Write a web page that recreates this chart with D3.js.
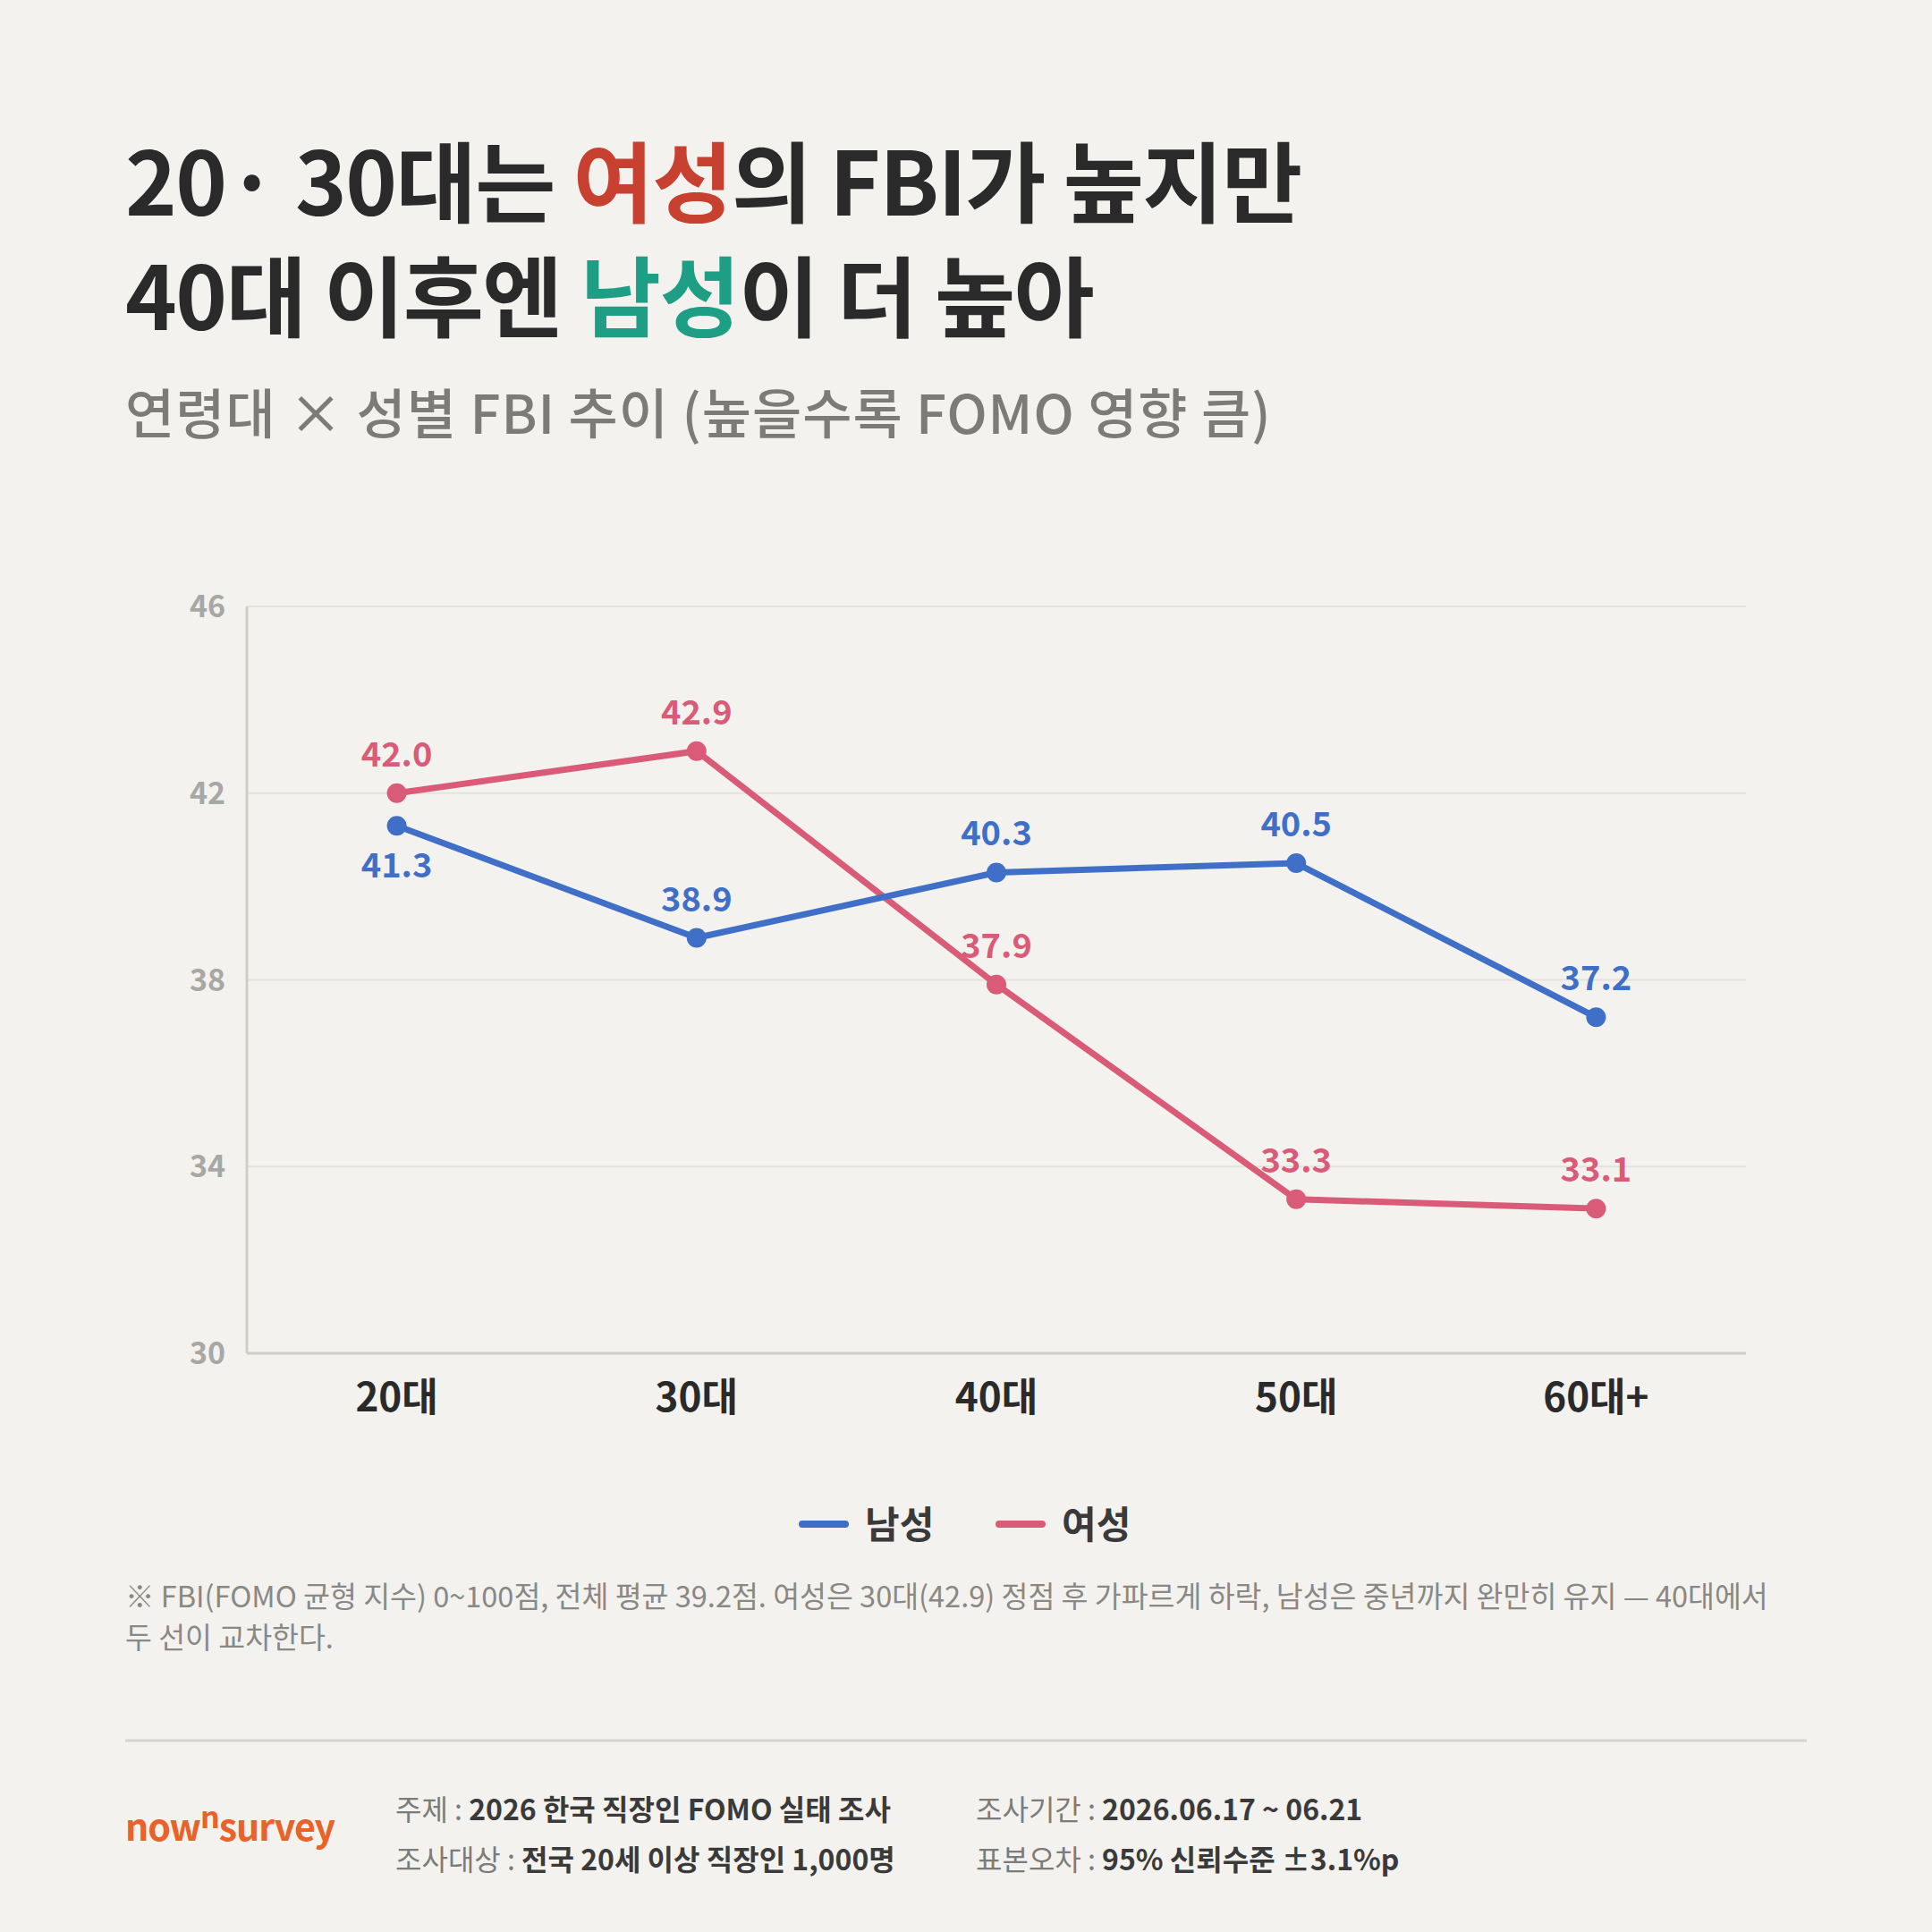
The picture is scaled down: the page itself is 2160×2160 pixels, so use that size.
<!DOCTYPE html>
<html><head><meta charset="utf-8">
<script src="https://cdn.jsdelivr.net/npm/d3@7"></script>
<style>
body{margin:0;background:#f3f2ee;}
svg{display:block;font-family:"Noto Sans CJK KR","Noto Sans",sans-serif;}
</style></head>
<body><svg width="2160" height="2160"></svg>
<script>
var ages = ["20대","30대","40대","50대","60대+"];
var male = [41.3,38.9,40.3,40.5,37.2];
var female = [42.0,42.9,37.9,33.3,33.1];
var yTicks = [30,34,38,42,46];

var svg = d3.select("svg");
var blue = "#3f6fc6", pink = "#d95b78";
svg.append("rect").attr("width",2160).attr("height",2160).attr("fill","#f3f2ee");

// title
var t1 = svg.append("text").attr("x",140).attr("y",241).attr("font-size",98).attr("font-weight",700).attr("letter-spacing",-1.5).attr("fill","#2a2a2a");
t1.append("tspan").text("20· 30대는 ");
t1.append("tspan").attr("fill","#c8402f").text("여성");
t1.append("tspan").text("의 FBI가 높지만");
var t2 = svg.append("text").attr("x",140).attr("y",369).attr("font-size",98).attr("font-weight",700).attr("letter-spacing",-1.5).attr("fill","#2a2a2a");
t2.append("tspan").text("40대 이후엔 ");
t2.append("tspan").attr("fill","#1e9e84").text("남성");
t2.append("tspan").text("이 더 높아");
svg.append("text").attr("x",140).attr("y",485).attr("font-size",60).attr("font-weight",500).attr("letter-spacing",1).attr("fill","#7d7b77")
  .text("연령대 × 성별 FBI 추이 (높을수록 FOMO 영향 큼)");

var L=276,R=1952,T=678,B=1513;
var x = d3.scalePoint().domain(ages).range([L,R]).padding(0.5);
var y = d3.scaleLinear().domain([30,46]).range([B,T]);

var g = svg.append("g");
g.selectAll(".grid").data(yTicks.slice(1)).enter().append("line")
  .attr("x1",L).attr("x2",R).attr("y1",d=>y(d)).attr("y2",d=>y(d))
  .attr("stroke","#e4e2dd").attr("stroke-width",2);
g.append("line").attr("x1",L).attr("x2",L).attr("y1",T).attr("y2",B).attr("stroke","#cfcdc8").attr("stroke-width",3);
g.append("line").attr("x1",L).attr("x2",R).attr("y1",B).attr("y2",B).attr("stroke","#cfcdc8").attr("stroke-width",3);
g.selectAll(".yt").data(yTicks).enter().append("text")
  .attr("x",L-24).attr("y",d=>y(d)+12).attr("text-anchor","end")
  .attr("font-size",34).attr("font-weight",700).attr("fill","#a9a7a3").text(d=>d);
g.selectAll(".xt").data(ages).enter().append("text")
  .attr("x",d=>x(d)).attr("y",1578).attr("text-anchor","middle")
  .attr("font-size",44).attr("font-weight",700).attr("fill","#2a2a2a").text(d=>d);

var line = d3.line().x((d,i)=>x(ages[i])).y(d=>y(d));
function series(vals,color,above){
  g.append("path").datum(vals).attr("d",line).attr("fill","none").attr("stroke",color).attr("stroke-width",7).attr("stroke-linejoin","round");
  g.selectAll(null).data(vals).enter().append("circle")
    .attr("cx",(d,i)=>x(ages[i])).attr("cy",d=>y(d)).attr("r",11).attr("fill",color);
  g.selectAll(null).data(vals).enter().append("text")
    .attr("x",(d,i)=>x(ages[i])).attr("y",(d,i)=>y(d)+(above[i]?-30:58))
    .attr("text-anchor","middle").attr("font-size",38).attr("font-weight",700).attr("fill",color)
    .text(d=>d.toFixed(1));
}
series(female,pink,[true,true,true,true,true]);
series(male,blue,[false,true,true,true,true]);

// legend
var leg=[["남성",blue,897],["여성",pink,1117]];
leg.forEach(function(l){
  svg.append("line").attr("x1",l[2]).attr("x2",l[2]+48).attr("y1",1704).attr("y2",1704)
    .attr("stroke",l[1]).attr("stroke-width",8).attr("stroke-linecap","round");
  svg.append("text").attr("x",l[2]+70).attr("y",1720).attr("font-size",42).attr("font-weight",700).attr("fill","#3a3a3a").text(l[0]);
});

svg.append("text").attr("x",140).attr("y",1797).attr("font-size",32.5).attr("fill","#8a8884")
  .text("※ FBI(FOMO 균형 지수) 0~100점, 전체 평균 39.2점. 여성은 30대(42.9) 정점 후 가파르게 하락, 남성은 중년까지 완만히 유지 — 40대에서");
svg.append("text").attr("x",140).attr("y",1843).attr("font-size",32.5).attr("fill","#8a8884").text("두 선이 교차한다.");

svg.append("line").attr("x1",140).attr("x2",2020).attr("y1",1946).attr("y2",1946).attr("stroke","#d6d4cf").attr("stroke-width",3);

var logo = svg.append("text").attr("x",140).attr("y",2058).attr("font-size",41).attr("font-weight",700).attr("letter-spacing",-1).attr("fill","#e8622a");
logo.append("tspan").text("now");
logo.append("tspan").attr("dy",-14).attr("font-size",34).text("n");
logo.append("tspan").attr("dy",14).text("survey");

var foot=[[442,2035,"주제 : ","2026 한국 직장인 FOMO 실태 조사"],[442,2091,"조사대상 : ","전국 20세 이상 직장인 1,000명"],
  [1091,2035,"조사기간 : ","2026.06.17 ~ 06.21"],[1091,2091,"표본오차 : ","95% 신뢰수준 ±3.1%p"]];
foot.forEach(function(f){
  var t=svg.append("text").attr("x",f[0]).attr("y",f[1]).attr("font-size",32);
  t.append("tspan").attr("fill","#7d7b77").text(f[2]);
  t.append("tspan").attr("fill","#3a3a3a").attr("font-weight",700).text(f[3]);
});
</script></body></html>
